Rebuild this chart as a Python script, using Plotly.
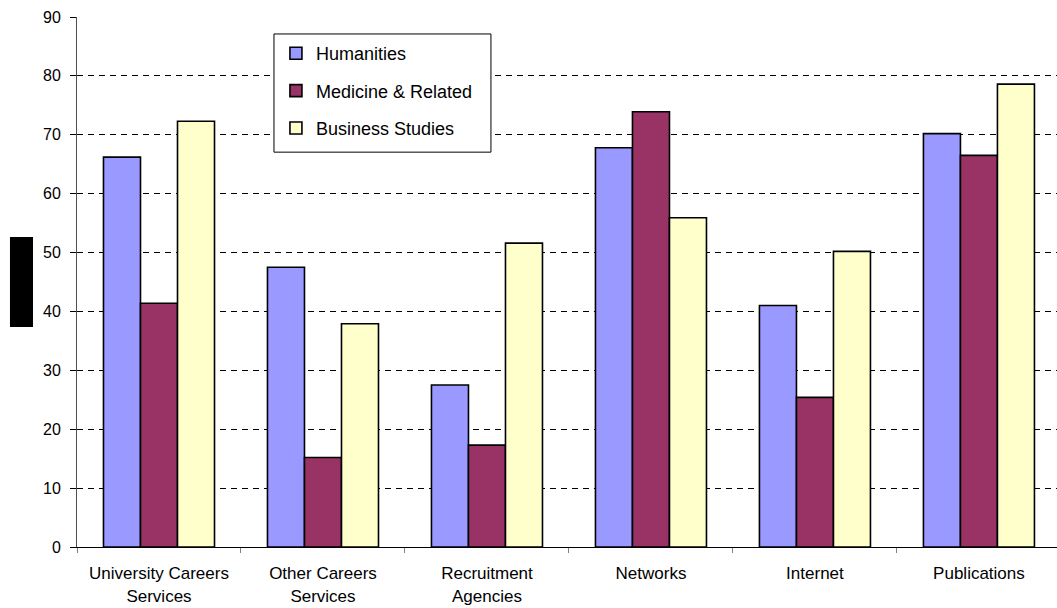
import plotly.graph_objects as go

# Survey results by source of careers information
categories = [
    "University Careers<br>Services",
    "Other Careers<br>Services",
    "Recruitment<br>Agencies",
    "Networks",
    "Internet",
    "Publications",
]
humanities = [66.2, 47.5, 27.5, 67.8, 41.0, 70.2]
medicine = [41.4, 15.2, 17.3, 73.9, 25.4, 66.5]
business = [72.3, 37.9, 51.6, 55.9, 50.2, 78.6]

y_ticks = [0, 10, 20, 30, 40, 50, 60, 70, 80, 90]

series = [
    ("Humanities", humanities, "#9999FF"),
    ("Medicine & Related", medicine, "#993366"),
    ("Business Studies", business, "#FFFFCC"),
]

FONT = "Liberation Sans, Arial, sans-serif"

# legend frame (paper coordinates)
LEG_X0, LEG_X1 = 0.201, 0.4224
LEG_Y0, LEG_Y1 = 0.745, 0.968

fig = go.Figure()
for i, (name, vals, color) in enumerate(series):
    fig.add_trace(
        go.Bar(
            x=categories,
            y=vals,
            name=name,
            legendgroup=f"g{i}",
            marker=dict(color=color, line=dict(color="black", width=1.6)),
        )
    )

fig.update_layout(
    width=1057,
    height=608,
    margin=dict(l=77, r=0, t=17, b=61),
    paper_bgcolor="white",
    plot_bgcolor="white",
    barmode="group",
    bargap=0.323,
    bargroupgap=0,
    font=dict(family=FONT, color="black"),
    showlegend=True,
    legend=dict(
        x=LEG_X0 + 0.002,
        y=LEG_Y1 - 0.002,
        xanchor="left",
        yanchor="top",
        bgcolor="rgba(255,255,255,0)",
        borderwidth=0,
        font=dict(family=FONT, size=18, color="black"),
        traceorder="grouped",
        tracegroupgap=11,
    ),
    xaxis=dict(
        type="category",
        range=[-0.5, 5.476],
        showline=True,
        linecolor="black",
        linewidth=1,
        ticks="outside",
        tickson="boundaries",
        ticklen=5,
        tickcolor="#808080",
        tickfont=dict(family=FONT, size=17, color="black"),
        showgrid=False,
        zeroline=False,
        ticklabelstandoff=11,
    ),
    yaxis=dict(
        range=[0, 90],
        tickvals=y_ticks,
        showline=True,
        linecolor="#505050",
        linewidth=1,
        ticks="outside",
        ticklen=6,
        tickcolor="black",
        tickfont=dict(family=FONT, size=16, color="black"),
        ticklabelstandoff=6,
        showgrid=True,
        gridcolor="black",
        gridwidth=1,
        griddash="6px,5px",
        zeroline=False,
    ),
    shapes=[
        dict(
            type="rect",
            xref="paper",
            yref="paper",
            x0=-0.0684,
            x1=-0.0449,
            y0=0.415,
            y1=0.585,
            fillcolor="black",
            line=dict(width=0),
            layer="above",
        ),
        dict(
            type="rect",
            xref="paper",
            yref="paper",
            x0=LEG_X0,
            x1=LEG_X1,
            y0=LEG_Y0,
            y1=LEG_Y1,
            fillcolor="white",
            line=dict(color="black", width=1),
            layer="above",
        ),
    ],
)

fig.write_html("out.html")
